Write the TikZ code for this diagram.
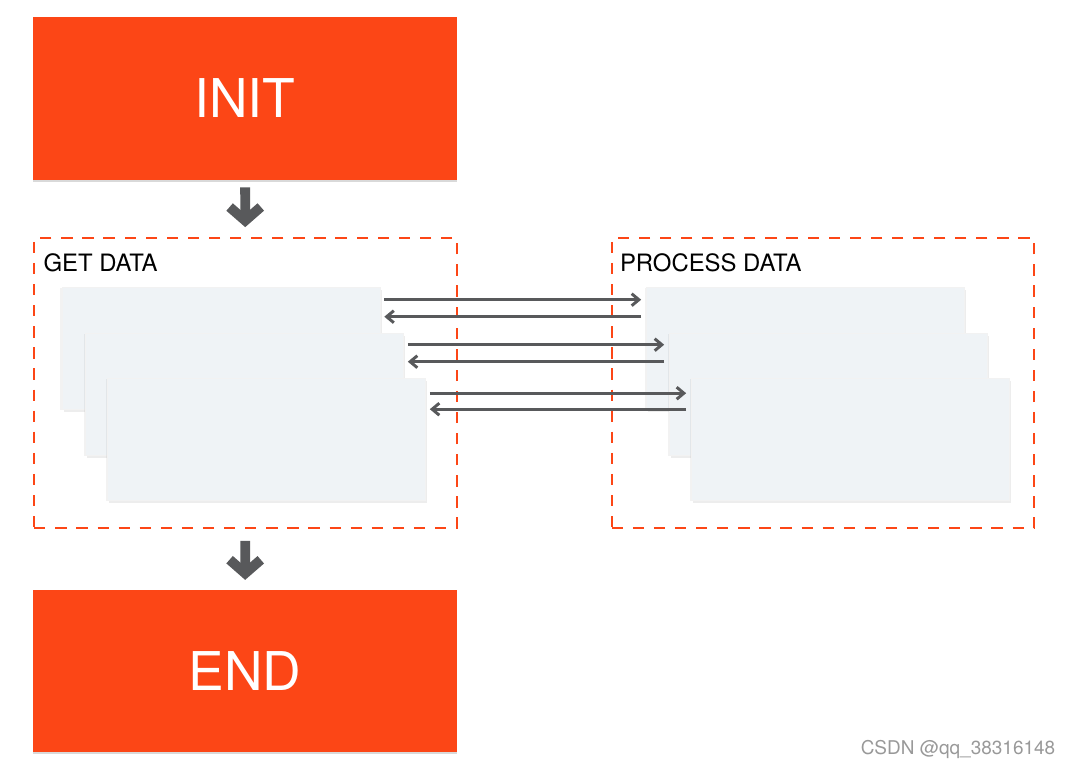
\documentclass[tikz,border=0pt]{standalone}
\usepackage{fontspec}
\setmainfont{TeX Gyre Heros}
\usepackage{tikz}
\usetikzlibrary{positioning,shadows,arrows.meta,calc}
\definecolor{flame}{HTML}{FC4616}
\definecolor{cardbg}{HTML}{EFF3F6}
\definecolor{slate}{HTML}{58595B}
\tikzset{
  stage/.style  = {rectangle, fill=flame, text=white, inner sep=0pt,
                   minimum width=10.6cm, font=\fontsize{38}{40}\selectfont,
                   drop shadow={shadow xshift=0pt, shadow yshift=-1.2pt,
                   opacity=0.15, fill=black}},
  group/.style  = {rectangle, draw=flame, line width=1.4pt,
                   dash pattern=on 8pt off 7pt, inner sep=0pt,
                   minimum width=10.56cm, minimum height=7.25cm},
  tag/.style    = {inner sep=0pt, anchor=base west,
                   font=\fontsize{17}{19}\selectfont},
  card/.style   = {rectangle, fill=cardbg, draw=black!5, line width=0.4pt,
                   inner sep=0pt, minimum width=7.95cm, minimum height=3.05cm,
                   general shadow={shadow xshift=-1.2pt, shadow yshift=-0.6pt,
                   opacity=0.05, fill=black},
                   general shadow={shadow xshift=1.2pt, shadow yshift=-1.8pt,
                   opacity=0.07, fill=black}},
  down/.style   = {-{Straight Barb[length=3.4mm,width=7.8mm]}, line width=7pt,
                   draw=slate},
  link/.style   = {-{Straight Barb[length=1.8mm,width=3mm]}, line width=2.1pt,
                   draw=slate},
  credit/.style = {inner sep=0pt, text=black!40,
                   font=\fontsize{13.5}{15}\selectfont}
}

\begin{document}
\begin{tikzpicture}[x=0.025cm, y=-0.025cm]
      \useasboundingbox (0,0) rectangle (1068,770);
      \node[stage, minimum height=4.075cm] (init) at (245,98.5)  {INIT};
      \node[group] (get)  at (245.5,383) {};
      \node[group] (proc) at (823,383)   {};
      \node[tag] (gettag)  at ([shift={(10,35)}]get.north west)  {GET DATA};
      \node[tag] (proctag) at ([shift={(9,35)}]proc.north west)  {PROCESS DATA};
      \node[card] (lcardA) at (221,348)   {};
      \node[card] (lcardB) at (244.5,394) {};
      \node[card] (lcardC) at (266.5,439.5) {};
      \node[card] (rcardA) at (805.5,348)   {};
      \node[card] (rcardB) at (828.5,394)   {};
      \node[card] (rcardC) at (850.5,439.5) {};
      \node[stage, minimum height=4.05cm] (end) at (245,671) {END};
      \node[credit] (csdn) at (958,749) {CSDN @qq\_38316148};
      \draw[down, shorten <=5pt, shorten >=7pt] (init) -- (get);
      \draw[down, shorten <=8.5pt, shorten >=7pt] (get) -- (end);
      \draw[link] ([shift={(4,13)}]lcardA.north east) -- ([shift={(-5,13)}]rcardA.north west);
      \draw[link] ([shift={(-5,30)}]rcardA.north west) -- ([shift={(4,30)}]lcardA.north east);
      \draw[link] ([shift={(4,12)}]lcardB.north east) -- ([shift={(-5,12)}]rcardB.north west);
      \draw[link] ([shift={(-5,29)}]rcardB.north west) -- ([shift={(4,29)}]lcardB.north east);
      \draw[link] ([shift={(4,15)}]lcardC.north east) -- ([shift={(-5,15)}]rcardC.north west);
      \draw[link] ([shift={(-5,31)}]rcardC.north west) -- ([shift={(4,31)}]lcardC.north east);
\end{tikzpicture}
\end{document}
